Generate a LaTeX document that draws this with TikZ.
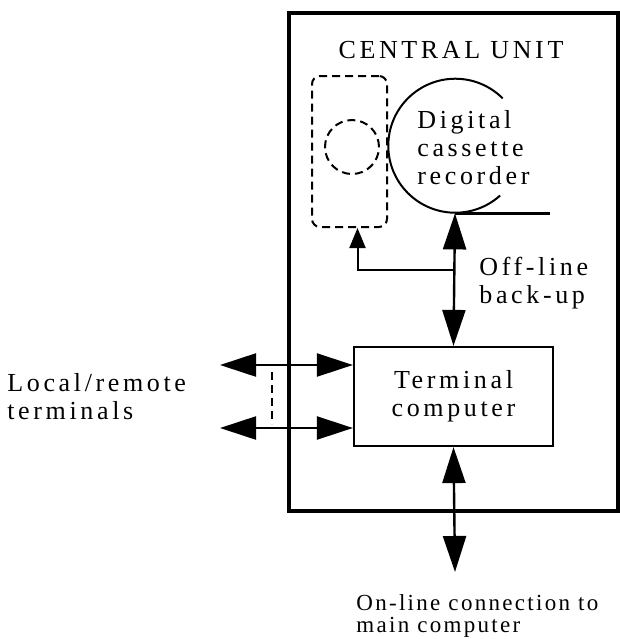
\documentclass[tikz,border=0pt]{standalone}
\usepackage{fontspec}
\setmainfont{Liberation Serif}[LetterSpace=14]
\usetikzlibrary{arrows.meta, positioning, fit}

\begin{document}
\begin{tikzpicture}[
    x=0.5pt, y=-0.5pt,
    font=\fontsize{13}{14}\selectfont,
    frame/.style={rectangle, draw, line width=1.9pt, inner sep=0pt},
    box/.style={rectangle, draw, line width=1.1pt, minimum width=99.5pt, minimum height=49.5pt, align=center},
    spare/.style={rectangle, draw, dash pattern=on 4pt off 2.5pt, line width=1pt, rounded corners=4pt, inner sep=0pt},
    label/.style={align=left, inner sep=0pt},
    twoway/.style={{Triangle[length=18pt,width=11.5pt]}-{Triangle[length=18pt,width=11.5pt]}, line width=1.2pt},
    oneway/.style={-{Triangle[length=10pt,width=8pt]}, line width=1pt}
]
\useasboundingbox (0,0) rectangle (620,639);

% central unit frame
\node[frame, fit={(289,13) (618,511)}] (unit) {};
\node at (451,50) (title) {CENTRAL UNIT};

% spare cassette drive (dashed)
\node[spare, fit={(312,76) (387,227)}] (sparebox) {};
\node[circle, draw, dash pattern=on 4pt off 2.5pt, line width=1pt, minimum size=27pt, inner sep=0pt] at (352,147) (sparereel) {};

% digital cassette recorder
\node[circle, minimum size=67pt, inner sep=0pt] at (455,146) (recorder) {};
\draw[line width=1pt] (recorder.45) arc[start angle=45, end angle=312, radius=33.5pt];
\draw[line width=1.1pt] (recorder.south) -- ++(95,0) coordinate (tape);
\node[label, anchor=west] at (417,148) (rectext) {Digital\\cassette\\recorder};

% terminal computer
\node[box] at (453.5,396.5) (terminal) {Terminal\\computer};

% off-line back-up
\draw[twoway] (recorder.south) -- (terminal.north);
\coordinate (branch) at (455,270);
\draw[oneway] (branch) -| ([xshift=4pt]sparebox.south);
\node[label, anchor=west] at (479,283) (offline) {Off-line\\back-up};

% local/remote terminals
\coordinate (lt1) at (220,365);
\coordinate (lt2) at (220,428);
\draw[twoway, line width=1.1pt] (lt1) -- (terminal.west |- lt1);
\draw[twoway, line width=1.1pt] (lt2) -- (terminal.west |- lt2);
\draw[dash pattern=on 4pt off 2.5pt, line width=1.1pt] (272,372) -- (272,424);
\node[label, anchor=west] at (7,397) (local) {Local/remote\\terminals};

% on-line connection
\coordinate (main) at (455,572);
\draw[twoway] (terminal.south) -- (main);
\node[label, anchor=north west, font=\fontsize{11.5}{11}\selectfont\addfontfeature{LetterSpace=10}] at (356,594) (online) {On-line connection to\\main computer};

\end{tikzpicture}
\end{document}
